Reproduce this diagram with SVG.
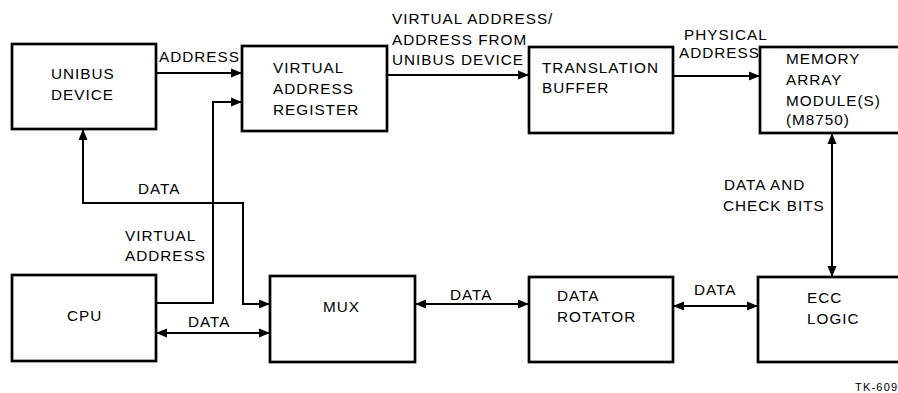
<svg xmlns="http://www.w3.org/2000/svg" width="898" height="393" viewBox="0 0 898 393">
<style>
.box{fill:none;stroke:#000;stroke-width:2.7}
.ln{fill:none;stroke:#000;stroke-width:2}
text{font-family:"Liberation Sans",Arial,sans-serif;font-size:15.3px;letter-spacing:1px;fill:#000}
.small{font-size:11px;letter-spacing:1.2px}
</style>
<defs>
<marker id="ah" markerUnits="userSpaceOnUse" markerWidth="12" markerHeight="10" refX="11" refY="5" orient="auto-start-reverse">
<path d="M0,0.5 L11,5 L0,9.5 Z" fill="#000"/>
</marker>
</defs>
<rect width="898" height="393" fill="#fff"/>
<g id="unibus-device">
<rect class="box" x="12" y="44" width="144" height="85"/>
<text x="51" y="79">UNIBUS</text>
<text x="51" y="100">DEVICE</text>
</g>
<g id="virtual-address-register">
<rect class="box" x="242" y="46" width="145" height="85"/>
<text x="273" y="73">VIRTUAL</text>
<text x="273" y="94">ADDRESS</text>
<text x="273" y="115">REGISTER</text>
</g>
<g id="translation-buffer">
<rect class="box" x="529" y="47" width="144" height="86"/>
<text x="542" y="73">TRANSLATION</text>
<text x="542" y="93">BUFFER</text>
</g>
<g id="memory-array">
<rect class="box" x="760" y="47" width="150" height="86"/>
<text x="786" y="64">MEMORY</text>
<text x="786" y="85">ARRAY</text>
<text x="786" y="106">MODULE(S)</text>
<text x="786" y="125">(M8750)</text>
</g>
<g id="cpu">
<rect class="box" x="12" y="275" width="144" height="86"/>
<text x="67" y="321">CPU</text>
</g>
<g id="mux">
<rect class="box" x="270" y="276" width="145" height="86"/>
<text x="323" y="312">MUX</text>
</g>
<g id="data-rotator">
<rect class="box" x="529" y="277" width="144" height="85"/>
<text x="557" y="301">DATA</text>
<text x="557" y="322">ROTATOR</text>
</g>
<g id="ecc-logic">
<rect class="box" x="758" y="277" width="152" height="85"/>
<text x="807" y="303">ECC</text>
<text x="807" y="324">LOGIC</text>
</g>
<g id="connectors">
<path class="ln" d="M156,73 H242" marker-end="url(#ah)"/>
<path class="ln" d="M156,303 H213 V102 H242" marker-end="url(#ah)"/>
<path class="ln" d="M270,304 H243 V203 H83 V129" marker-start="url(#ah)" marker-end="url(#ah)"/>
<path class="ln" d="M387,75 H529" marker-end="url(#ah)"/>
<path class="ln" d="M673,76 H760" marker-end="url(#ah)"/>
<path class="ln" d="M832,133 V277" marker-start="url(#ah)" marker-end="url(#ah)"/>
<path class="ln" d="M156,333 H270" marker-start="url(#ah)" marker-end="url(#ah)"/>
<path class="ln" d="M415,304 H529" marker-start="url(#ah)" marker-end="url(#ah)"/>
<path class="ln" d="M673,306 H758" marker-start="url(#ah)" marker-end="url(#ah)"/>
</g>
<g id="labels">
<text x="159" y="62">ADDRESS</text>
<text x="392" y="24">VIRTUAL ADDRESS/</text>
<text x="392" y="45">ADDRESS FROM</text>
<text x="392" y="65">UNIBUS DEVICE</text>
<text x="684" y="40">PHYSICAL</text>
<text x="679" y="58">ADDRESS</text>
<text x="138" y="194">DATA</text>
<text x="125" y="241">VIRTUAL</text>
<text x="125" y="261">ADDRESS</text>
<text x="188" y="327">DATA</text>
<text x="450" y="300">DATA</text>
<text x="694" y="295">DATA</text>
<text x="724" y="190">DATA AND</text>
<text x="723" y="211">CHECK BITS</text>
<text class="small" x="855" y="391">TK-609</text>
</g>
</svg>
